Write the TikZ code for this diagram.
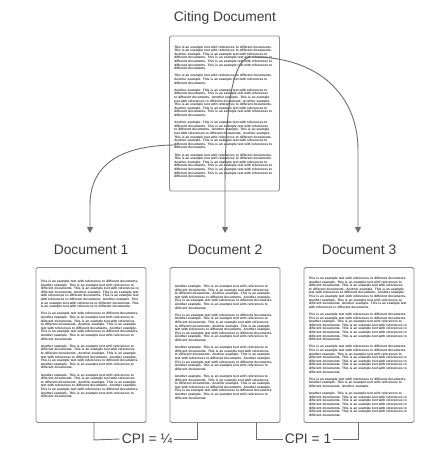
\documentclass[tikz,border=0pt]{standalone}
\usepackage{fontspec}
\setmainfont{Liberation Sans}
\usetikzlibrary{arrows.meta}
\newcommand\txa{This is an example text with references to different documents. }
\newcommand\txb{Another example. }
\newcommand\pthree{\txa\txb\txa}
\newcommand\pfive{\txb\txa\txa\txa\txa}
\newcommand\psix{\txa\txa\txb\txa\txa\txa}
\newcommand\pseven{\txb\txa\txa\txb\txa\txb\txa\txb\txa}
\newcommand\peight{\txa\txb\txa\txa\txb\txa\txb\txa\txb\txa}
\newcommand\pnine{\txa\txb\txa\txa\txb\txa\txa\txb\txa\txa}
\newcommand\psep{\par\vspace{3.6pt}}
\definecolor{linegray}{HTML}{6E6E6E}
\definecolor{boxgray}{HTML}{8C8C8C}
\definecolor{titlegray}{HTML}{3C3C3C}
\tikzset{
  page/.style={draw=boxgray, line width=0.9pt, rounded corners=1.5pt, fill=white,
    minimum width=110pt, minimum height=155pt, inner sep=0pt},
  filler/.style={anchor=north west, inner sep=0pt, text width=99pt, align=left,
    font=\fontsize{3.2}{3.6}\selectfont\bfseries, text=black!80},
  title/.style={font=\fontsize{13.8}{15}\selectfont, text=titlegray, inner sep=0pt},
  conn/.style={draw=linegray, line width=0.9pt, -{Triangle[width=6pt,length=6pt]}},
  brk/.style={draw=linegray, line width=0.9pt},
}
\begin{document}
\begin{tikzpicture}[x=1pt,y=-1pt]
\useasboundingbox (0,0) rectangle (428,450);
% titles
\node[title] (tc) at (225,18) {Citing Document};
\node[title] (t1) at (91,250) {Document 1};
\node[title] (t2) at (225,250) {Document 2};
\node[title] (t3) at (359,250) {Document 3};
% pages
\node[page, minimum height=155pt] (c) at (224.5,113.5) {};
\node[page] (d1) at (91,345) {};
\node[page] (d2) at (225,345) {};
\node[page] (d3) at (359,345) {};
% filler text
\node[filler] (fc) at ([shift={(5,10)}]c.north west) {%
\psix\txa\psep\pthree\psep\pseven\txa\psep\pseven\txa\psep\psix\txa};
\node[filler] (f1) at ([shift={(5,13)}]d1.north west) {%
\pnine\psep\peight\psep\pseven\psep\pseven};
\node[filler] (f2) at ([shift={(5,18)}]d2.north west) {%
\pseven\psep\peight\psep\pseven\psep\pseven};
\node[filler] (f3) at ([shift={(5,10)}]d3.north west) {%
\peight\txb\txa\psep\psix\txa\txa\psep\psix\txa\txa\psep\pthree\txb\psep\pfive\txa\txa};
% connector endpoints
\coordinate (s1) at (176,145);
\coordinate (s2) at (250,57);
\coordinate (e1) at (90,233);
\coordinate (e2) at (225,233);
\coordinate (e3) at (358,233);
% connectors
\draw[conn] (s1) .. controls (125,145) and (90,162) .. (90,205) -- (e1);
\draw[conn] (s2) .. controls (232,60) and (225,110) .. (225,190) -- (e2);
\draw[conn] (s2) .. controls (318,56) and (358,95) .. (358,150) -- (e3);
% brackets
\node[title] (cpi1) at (147,439) {CPI = ¼};
\node[title] (cpi2) at (308,439) {CPI = 1};
\draw[brk] ([xshift=3]d1.south) -- ++(0,17) -- ([xshift=-2]cpi1.west);
\draw[brk] ([xshift=2]cpi1.east) -- (197,439) -- (197,0 |- d2.south);
\draw[brk] (256,0 |- d2.south) -- (256,439) -- ([xshift=-2]cpi2.west);
\draw[brk] ([xshift=2]cpi2.east) -- (358,439) -- (358,0 |- d3.south);
\end{tikzpicture}
\end{document}
